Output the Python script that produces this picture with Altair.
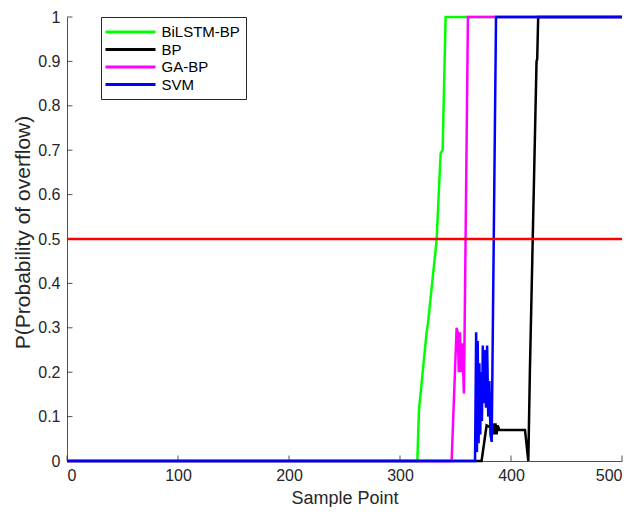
import altair as alt
import pandas as pd

series_names = ["BiLSTM-BP", "BP", "GA-BP", "SVM"]
series_colors = ["#00ff00", "#000000", "#ff00ff", "#0000ff"]

bilstm_x = [0, 315.6, 317.1, 324.0, 325.2, 333.0, 336.6, 338.4, 341.1, 500]
bilstm_y = [0, 0, 0.115, 0.291, 0.310, 0.498, 0.693, 0.700, 1.0, 1.0]

bp_x = [0, 373.5, 378, 382, 384, 385, 386, 387, 388, 389.5, 412.6, 415.6, 417.0, 423.0, 423.6, 424.5, 500]
bp_y = [0, 0, 0.08, 0.075, 0.08, 0.06, 0.085, 0.06, 0.08, 0.07, 0.07, 0.0, 0.20, 0.90, 0.905, 1.0, 1.0]

gabp_x = [0, 346.5, 351.0, 352.0, 353.0, 354.0, 355.0, 356.0, 357.6, 361.2, 500]
gabp_y = [0, 0, 0.30, 0.29, 0.20, 0.29, 0.20, 0.265, 0.152, 1.0, 1.0]

svm_x = [0, 367.6, 368.6, 369.3, 370.0, 370.8, 371.5, 372.3, 373.0, 373.8, 374.6,
         375.5, 376.5, 377.5, 378.5, 379.5, 380.5, 381.5, 382.6, 386.5, 500]
svm_y = [0, 0, 0.29, 0.02, 0.27, 0.04, 0.22, 0.06, 0.20, 0.09, 0.26,
         0.13, 0.25, 0.12, 0.26, 0.10, 0.18, 0.06, 0.043, 1.0, 1.0]

threshold = 0.5
x_ticks = [0, 100, 200, 300, 400, 500]
y_ticks = [0, 0.1, 0.2, 0.3, 0.4, 0.5, 0.6, 0.7, 0.8, 0.9, 1.0]

rows = []
for name, xs, ys in zip(series_names, [bilstm_x, bp_x, gabp_x, svm_x],
                        [bilstm_y, bp_y, gabp_y, svm_y]):
    for i, (xv, yv) in enumerate(zip(xs, ys)):
        rows.append({"series": name, "x": xv, "y": yv, "i": i})
df = pd.DataFrame(rows)

FONT = "Liberation Sans"
TXT = "#262626"
W, H = 555, 444

xscale = alt.Scale(domain=[0, 500], nice=False, zero=False)
yscale = alt.Scale(domain=[0, 1], nice=False, zero=False)

lines = alt.Chart(df).mark_line(strokeWidth=2.5).encode(
    x=alt.X("x:Q", scale=xscale,
            axis=alt.Axis(values=x_ticks, title="Sample Point", ticks=False,
                          labelPadding=6, titleY=42, titleBaseline="alphabetic",
                          titleFontSize=18, grid=False)),
    y=alt.Y("y:Q", scale=yscale,
            axis=alt.Axis(values=y_ticks, format=".1~f", title="P(Probability of overflow)",
                          ticks=False, labelPadding=7, titleX=-38, titleY=215,
                          titleBaseline="alphabetic", titleAlign="center",
                          titleFontSize=21, grid=False)),
    color=alt.Color("series:N",
                    scale=alt.Scale(domain=series_names, range=series_colors),
                    legend=alt.Legend(title=None, orient="none", legendX=34, legendY=0,
                                      symbolType="M-3.333,0H3.333", symbolSize=225,
                                      symbolStrokeWidth=3, symbolOffset=14.5,
                                      labelFontSize=15,
                                      labelFont=FONT, labelColor="#000000",
                                      strokeColor="#262626", fillColor="white",
                                      padding=6, rowPadding=0.5, labelOffset=22)),
    order="i:Q",
)

red = alt.Chart(pd.DataFrame({"t": [threshold]})).mark_rule(color="#ff0000", strokeWidth=2.5).encode(
    y=alt.Y("t:Q", scale=yscale)
)

xt = alt.Chart(pd.DataFrame({"v": x_ticks})).mark_rule(color=TXT, strokeWidth=0.8).encode(
    x=alt.X("v:Q", scale=xscale), y=alt.value(H), y2=alt.value(H - 5.5)
)
yt = alt.Chart(pd.DataFrame({"v": y_ticks})).mark_rule(color=TXT, strokeWidth=0.8).encode(
    y=alt.Y("v:Q", scale=yscale), x=alt.value(0), x2=alt.value(5.5)
)

chart = alt.layer(xt, yt, lines, red).properties(
    width=W, height=H,
    autosize=alt.AutoSizeParams(type="none"),
    padding={"left": 59, "top": 9, "right": 5, "bottom": 46},
    background="white",
).configure_view(stroke=None).configure_axis(
    labelFont=FONT, titleFont=FONT, labelFontSize=16,
    labelColor=TXT, titleColor=TXT, titleFontWeight="normal",
    domainColor=TXT, domainWidth=0.8,
)

chart.save("out.html", embed_options={"renderer": "svg", "actions": False})
